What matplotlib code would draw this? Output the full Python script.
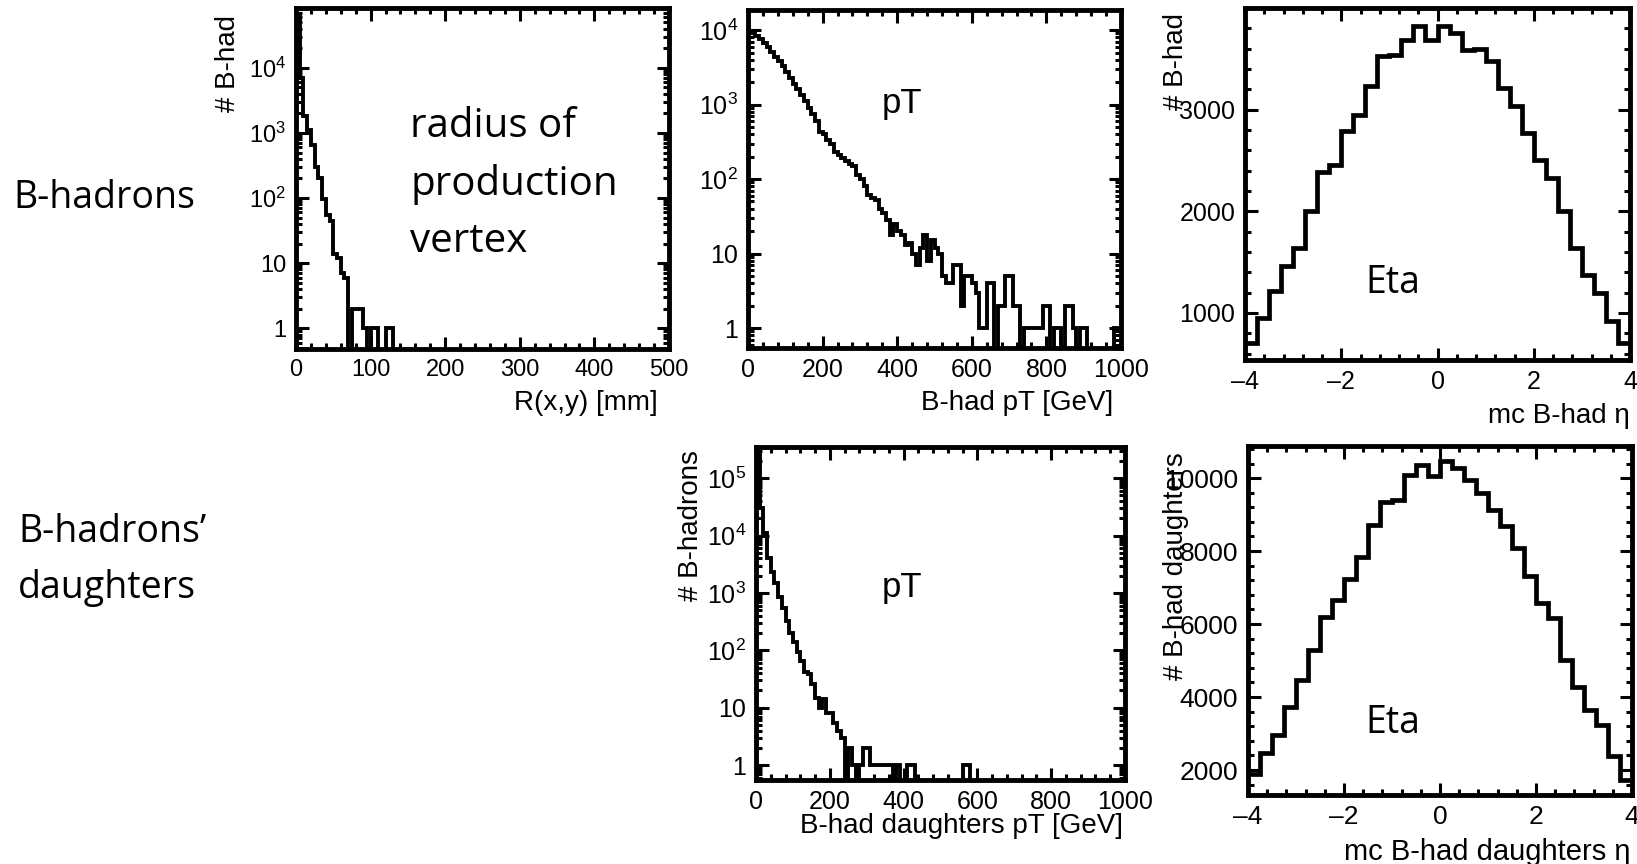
import numpy as np
import matplotlib
matplotlib.use('Agg')
import matplotlib.pyplot as plt
from matplotlib.ticker import MultipleLocator, LogLocator, FuncFormatter, NullFormatter, FixedLocator

plt.rcParams['font.family'] = ['Liberation Sans', 'DejaVu Sans']
plt.rcParams['mathtext.fontset'] = 'custom'
plt.rcParams['mathtext.rm'] = 'Liberation Sans'
plt.rcParams['mathtext.it'] = 'Liberation Sans:italic'

# ---- values ----
# radius of production vertex, 5 mm bins 0..500
r_edges = np.linspace(0, 500, 101)
r_counts = [60000, 7000, 1800, 1100, 650, 300, 200, 95, 55, 45,
            14, 12, 7, 6, 0, 2, 2, 2, 1, 0,
            1, 1, 0, 0, 1, 1, 0, 0, 0, 0,
            0, 0, 0, 0, 0, 0, 0, 0, 0, 0,
            0, 0, 0, 0, 0, 0, 0, 0, 0, 0,
            0, 0, 0, 0, 0, 0, 0, 0, 0, 0,
            0, 0, 0, 0, 0, 0, 0, 0, 0, 0,
            0, 0, 0, 0, 0, 0, 0, 0, 0, 0,
            0, 0, 0, 0, 0, 0, 0, 0, 0, 0,
            0, 0, 0, 0, 0, 0, 0, 0, 0, 0]

# B-had pT, 10 GeV bins 0..1000
pt_edges = np.linspace(0, 1000, 101)
pt_counts = [9500, 9000, 8300, 7500, 6700, 5900, 5100, 4400, 3800, 3300,
             2700, 2300, 1900, 1600, 1350, 1100, 900, 740, 610, 430,
             400, 330, 300, 230, 210, 190, 175, 160, 150, 115,
             100, 80, 62, 55, 52, 40, 35, 28, 18, 25,
             20, 18, 13, 14, 10, 7, 12, 18, 8, 15,
             12, 10, 5, 4, 4, 7, 7, 2, 5, 5,
             4, 3, 1, 1, 4, 4, 0, 2, 2, 5,
             5, 2, 2, 0, 1, 1, 1, 1, 1, 2,
             2, 0, 1, 1, 0, 2, 2, 1, 0, 1,
             1, 0, 0, 0, 0, 0, 0, 0, 1, 1]

# B-had eta, 0.25 bins -4..4
eta_edges = np.linspace(-4, 4, 33)
eta_counts = [705, 951, 1213, 1459, 1639, 2000, 2384, 2459,
              2787, 2951, 3236, 3531, 3540, 3689, 3826, 3689,
              3826, 3754, 3590, 3600, 3475, 3213, 3033, 2770,
              2508, 2328, 2000, 1639, 1377, 1197, 918, 705]

# daughters pT, 10 GeV bins 0..1000
dpt_edges = np.linspace(0, 1000, 101)
dpt_counts = [250000, 30000, 11000, 4000, 2300, 1500, 850, 550, 330, 200,
              140, 95, 65, 42, 38, 26, 15, 10, 14, 8,
              8, 5.5, 4, 3, 0, 2, 1, 0, 1, 2,
              2, 1, 1, 1, 1, 1, 1, 0, 1, 0,
              0, 1, 1, 0, 0, 0, 0, 0, 0, 0,
              0, 0, 0, 0, 0, 0, 1, 1, 0, 0,
              0, 0, 0, 0, 0, 0, 0, 0, 0, 0,
              0, 0, 0, 0, 0, 0, 0, 0, 0, 0,
              0, 0, 0, 0, 0, 0, 0, 0, 0, 0,
              0, 0, 0, 0, 0, 0, 0, 0, 0, 0]

# daughters eta, 0.25 bins -4..4
deta_edges = np.linspace(-4, 4, 33)
deta_counts = [1900, 2457, 2960, 3737, 4469, 5291, 6206, 6663,
               7239, 7833, 8720, 9333, 9406, 10091, 10366, 10046,
               10457, 10274, 9954, 9589, 9131, 8674, 8080, 7330,
               6571, 6160, 5017, 4286, 3646, 3234, 2384, 1726]

W, H = 1637, 864
fig = plt.figure(figsize=(W / 100, H / 100), dpi=100)
fig.patch.set_facecolor('white')


def px_axes(l, r, t, b):
    return fig.add_axes([l / W, 1 - b / H, (r - l) / W, (b - t) / H])


def style(ax, tick_size):
    for s in ax.spines.values():
        s.set_linewidth(3.5)
    ax.tick_params(which='both', direction='in', top=True, right=True,
                   width=2.2, labelsize=tick_size, colors='black')
    ax.tick_params(which='major', length=9, pad=7)
    ax.tick_params(which='minor', length=4.5)


def log_label(v, pos):
    if v == 1:
        return '1'
    if v == 10:
        return '10'
    return r'$\mathregular{10^{%d}}$' % round(np.log10(v))


def log_axis(ax):
    ax.set_yscale('log')
    ax.yaxis.set_major_locator(LogLocator(base=10, numticks=20))
    ax.yaxis.set_minor_locator(LogLocator(base=10, subs=np.arange(2, 10), numticks=20))
    ax.yaxis.set_major_formatter(FuncFormatter(log_label))
    ax.yaxis.set_minor_formatter(NullFormatter())


def draw_log(ax, edges, counts, lw=2.8):
    c = np.asarray(counts, dtype=float)
    c = np.where(c > 0, c, 1e-3)
    ax.stairs(c, edges, color='black', lw=lw, baseline=None)


def eta_label(v, pos):
    return '%d' % v if v >= 0 else '\u2013%d' % -v


# panel 1: radius of production vertex
ax1 = px_axes(296, 669, 8, 349)
draw_log(ax1, r_edges, r_counts)
log_axis(ax1)
ax1.set_xlim(0, 500)
ax1.set_ylim(0.48, 83000)
ax1.xaxis.set_major_locator(MultipleLocator(100))
ax1.xaxis.set_minor_locator(MultipleLocator(20))
style(ax1, 17)
ax1.set_xlabel('R(x,y) [mm]', fontsize=20, loc='right')
ax1.xaxis.set_label_coords(0.971, -0.120)
ax1.set_ylabel('# B-had', fontsize=20, loc='top')
ax1.yaxis.set_label_coords(-0.147, 0.979)
# multi-line text: baseline alignment refers to the last line
ax1.text(0.306, 0.284, 'radius of\nproduction\nvertex', transform=ax1.transAxes,
         family='Open Sans', fontsize=29, va='baseline', ha='left', linespacing=1.54)

# panel 2: B-had pT
ax2 = px_axes(748, 1121, 10, 348)
draw_log(ax2, pt_edges, pt_counts)
log_axis(ax2)
ax2.set_xlim(0, 1000)
ax2.set_ylim(0.54, 18600)
ax2.xaxis.set_major_locator(MultipleLocator(200))
ax2.xaxis.set_minor_locator(MultipleLocator(40))
style(ax2, 18)
ax2.set_xlabel('B-had pT [GeV]', fontsize=20, loc='right')
ax2.xaxis.set_label_coords(0.979, -0.124)
ax2.text(0.359, 0.695, 'pT', transform=ax2.transAxes, fontsize=25,
         va='baseline', ha='left')

# panel 3: B-had eta
ax3 = px_axes(1245, 1630, 8, 360)
ax3.stairs(eta_counts, eta_edges, color='black', lw=3.4, baseline=None)
ax3.set_xlim(-4, 4)
ax3.set_ylim(537, 4000)
ax3.xaxis.set_major_locator(MultipleLocator(2))
ax3.xaxis.set_minor_locator(MultipleLocator(0.4))
ax3.yaxis.set_major_locator(FixedLocator([1000, 2000, 3000]))
ax3.yaxis.set_minor_locator(MultipleLocator(200))
ax3.xaxis.set_major_formatter(FuncFormatter(eta_label))
style(ax3, 18)
ax3.set_xlabel('mc B-had \u03b7', fontsize=20, loc='right')
ax3.xaxis.set_label_coords(1.0, -0.122)
ax3.set_ylabel('# B-had', fontsize=20, loc='top')
ax3.yaxis.set_label_coords(-0.145, 0.986)
ax3.text(0.312, 0.190, 'Eta', transform=ax3.transAxes, family='Open Sans',
         fontsize=27, va='baseline', ha='left')

# panel 4: daughters pT
ax4 = px_axes(756, 1125, 447, 780)
draw_log(ax4, dpt_edges, dpt_counts)
log_axis(ax4)
ax4.set_xlim(0, 1000)
ax4.set_ylim(0.55, 350000)
ax4.xaxis.set_major_locator(MultipleLocator(200))
ax4.xaxis.set_minor_locator(MultipleLocator(40))
style(ax4, 18)
ax4.set_xlabel('B-had daughters pT [GeV]', fontsize=20, loc='right')
ax4.xaxis.set_label_coords(0.995, -0.099)
ax4.set_ylabel('# B-hadrons', fontsize=20, loc='top')
ax4.yaxis.set_label_coords(-0.141, 0.991)
ax4.text(0.341, 0.550, 'pT', transform=ax4.transAxes, fontsize=25,
         va='baseline', ha='left')

# panel 5: daughters eta
ax5 = px_axes(1248, 1632, 446, 795)
ax5.stairs(deta_counts, deta_edges, color='black', lw=3.4, baseline=None)
ax5.set_xlim(-4, 4)
ax5.set_ylim(1315, 10880)
ax5.xaxis.set_major_locator(MultipleLocator(2))
ax5.xaxis.set_minor_locator(MultipleLocator(0.4))
ax5.yaxis.set_major_locator(MultipleLocator(2000))
ax5.yaxis.set_minor_locator(MultipleLocator(400))
ax5.xaxis.set_major_formatter(FuncFormatter(eta_label))
style(ax5, 19)
ax5.set_xlabel('mc B-had daughters \u03b7', fontsize=21, loc='right')
ax5.xaxis.set_label_coords(0.995, -0.123)
ax5.set_ylabel('# B-had daughters', fontsize=20, loc='top')
ax5.yaxis.set_label_coords(-0.154, 0.983)
ax5.text(0.305, 0.178, 'Eta', transform=ax5.transAxes, family='Open Sans',
         fontsize=27, va='baseline', ha='left')

# row labels
fig.text(13 / W, 1 - 208 / H, 'B-hadrons', family='Open Sans', fontsize=27,
         va='baseline', ha='left')
fig.text(18 / W, 1 - 598 / H, 'B-hadrons\u2019\ndaughters', family='Open Sans',
         fontsize=27, va='baseline', ha='left', linespacing=1.62)

fig.savefig('out.png', dpi=100)
